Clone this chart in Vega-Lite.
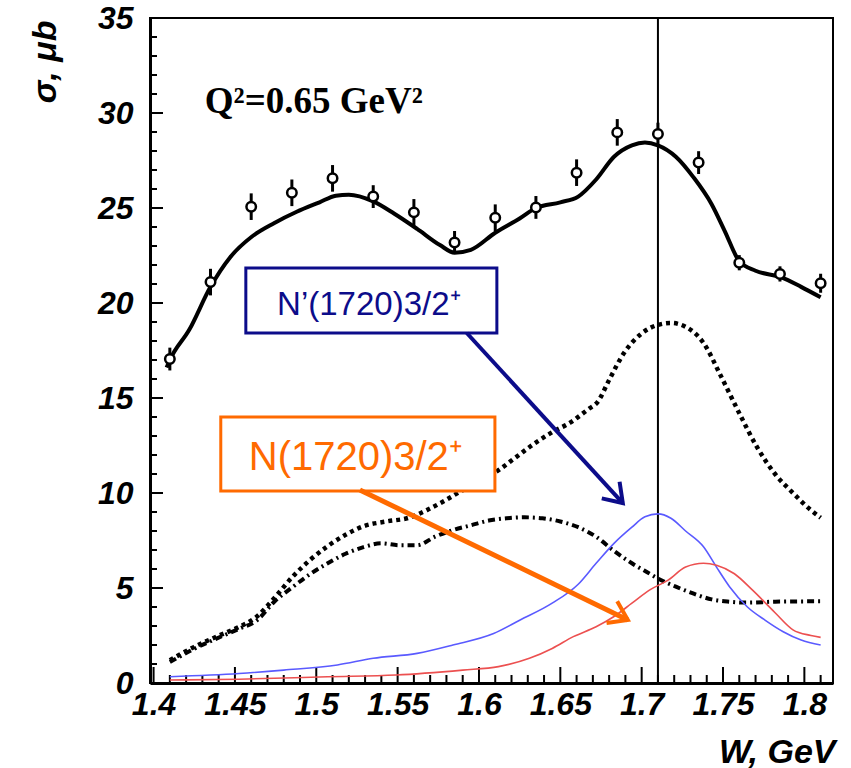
{
  "$schema": "https://vega.github.io/schema/vega-lite/v6.json",
  "width": 683,
  "height": 665,
  "autosize": {"type": "none"},
  "padding": {"left": 150, "top": 18, "right": 18, "bottom": 85},
  "background": "white",
  "config": {
    "view": {"stroke": "black", "strokeWidth": 2},
    "axis": {
      "grid": false,
      "ticks": false,
      "domainColor": "black",
      "domainWidth": 3,
      "labelColor": "black",
      "labelFont": "Liberation Sans",
      "labelFontWeight": "bold",
      "labelFontStyle": "italic",
      "labelFontSize": 32,
      "labelOverlap": false,
      "labelFlush": false,
      "titleColor": "black",
      "titleFont": "Liberation Sans",
      "titleFontWeight": "bold",
      "titleFontStyle": "italic",
      "titleFontSize": 34
    }
  },
  "datasets": {
    "points": [
      {"W": 1.41, "sigma": 17.05, "err": 0.6},
      {"W": 1.435, "sigma": 21.1, "err": 0.7},
      {"W": 1.46, "sigma": 25.07, "err": 0.7},
      {"W": 1.485, "sigma": 25.8, "err": 0.7},
      {"W": 1.51, "sigma": 26.56, "err": 0.7},
      {"W": 1.535, "sigma": 25.6, "err": 0.6},
      {"W": 1.56, "sigma": 24.77, "err": 0.7},
      {"W": 1.585, "sigma": 23.19, "err": 0.6},
      {"W": 1.61, "sigma": 24.49, "err": 0.7},
      {"W": 1.635, "sigma": 25.03, "err": 0.6},
      {"W": 1.66, "sigma": 26.86, "err": 0.7},
      {"W": 1.685, "sigma": 28.98, "err": 0.7},
      {"W": 1.71, "sigma": 28.89, "err": 0.6},
      {"W": 1.735, "sigma": 27.39, "err": 0.6},
      {"W": 1.76, "sigma": 22.12, "err": 0.4},
      {"W": 1.785, "sigma": 21.53, "err": 0.4},
      {"W": 1.81, "sigma": 21.04, "err": 0.5}
    ],
    "curves": [
      {"s": "fit", "W": 1.408, "v": 16.6}, {"s": "fit", "W": 1.41, "v": 17.0}, {"s": "fit", "W": 1.422, "v": 18.6},
      {"s": "fit", "W": 1.435, "v": 20.85}, {"s": "fit", "W": 1.447, "v": 22.4}, {"s": "fit", "W": 1.4605, "v": 23.5},
      {"s": "fit", "W": 1.474, "v": 24.2}, {"s": "fit", "W": 1.488, "v": 24.8}, {"s": "fit", "W": 1.502, "v": 25.3},
      {"s": "fit", "W": 1.512, "v": 25.65}, {"s": "fit", "W": 1.52, "v": 25.7}, {"s": "fit", "W": 1.535, "v": 25.35},
      {"s": "fit", "W": 1.548, "v": 24.7}, {"s": "fit", "W": 1.562, "v": 23.9}, {"s": "fit", "W": 1.576, "v": 23.05},
      {"s": "fit", "W": 1.585, "v": 22.65}, {"s": "fit", "W": 1.595, "v": 22.8}, {"s": "fit", "W": 1.61, "v": 23.7},
      {"s": "fit", "W": 1.625, "v": 24.45}, {"s": "fit", "W": 1.635, "v": 25.0}, {"s": "fit", "W": 1.65, "v": 25.3},
      {"s": "fit", "W": 1.661, "v": 25.6}, {"s": "fit", "W": 1.672, "v": 26.5}, {"s": "fit", "W": 1.683, "v": 27.7},
      {"s": "fit", "W": 1.694, "v": 28.3}, {"s": "fit", "W": 1.702, "v": 28.45}, {"s": "fit", "W": 1.71, "v": 28.3},
      {"s": "fit", "W": 1.721, "v": 27.7}, {"s": "fit", "W": 1.732, "v": 26.6}, {"s": "fit", "W": 1.743, "v": 25.2},
      {"s": "fit", "W": 1.751, "v": 23.8}, {"s": "fit", "W": 1.76, "v": 22.2}, {"s": "fit", "W": 1.77, "v": 21.7},
      {"s": "fit", "W": 1.786, "v": 21.35}, {"s": "fit", "W": 1.798, "v": 20.85}, {"s": "fit", "W": 1.81, "v": 20.3},

      {"s": "dot", "W": 1.41, "v": 1.2}, {"s": "dot", "W": 1.425, "v": 1.9}, {"s": "dot", "W": 1.439, "v": 2.45},
      {"s": "dot", "W": 1.4525, "v": 2.95}, {"s": "dot", "W": 1.4635, "v": 3.5}, {"s": "dot", "W": 1.4745, "v": 4.5},
      {"s": "dot", "W": 1.4855, "v": 5.6}, {"s": "dot", "W": 1.4965, "v": 6.5}, {"s": "dot", "W": 1.507, "v": 7.2},
      {"s": "dot", "W": 1.518, "v": 7.8}, {"s": "dot", "W": 1.529, "v": 8.25}, {"s": "dot", "W": 1.543, "v": 8.5},
      {"s": "dot", "W": 1.557, "v": 8.7}, {"s": "dot", "W": 1.568, "v": 9.1}, {"s": "dot", "W": 1.579, "v": 9.6},
      {"s": "dot", "W": 1.59, "v": 10.15}, {"s": "dot", "W": 1.601, "v": 10.6}, {"s": "dot", "W": 1.612, "v": 11.2},
      {"s": "dot", "W": 1.623, "v": 11.9}, {"s": "dot", "W": 1.634, "v": 12.6}, {"s": "dot", "W": 1.645, "v": 13.2},
      {"s": "dot", "W": 1.656, "v": 13.7}, {"s": "dot", "W": 1.667, "v": 14.4}, {"s": "dot", "W": 1.673, "v": 14.8},
      {"s": "dot", "W": 1.68, "v": 15.95}, {"s": "dot", "W": 1.689, "v": 17.35}, {"s": "dot", "W": 1.7, "v": 18.4},
      {"s": "dot", "W": 1.71, "v": 18.85}, {"s": "dot", "W": 1.718, "v": 18.95}, {"s": "dot", "W": 1.727, "v": 18.75},
      {"s": "dot", "W": 1.738, "v": 17.9}, {"s": "dot", "W": 1.749, "v": 16.1}, {"s": "dot", "W": 1.76, "v": 14.2},
      {"s": "dot", "W": 1.771, "v": 12.4}, {"s": "dot", "W": 1.782, "v": 11.0}, {"s": "dot", "W": 1.793, "v": 10.0},
      {"s": "dot", "W": 1.804, "v": 9.1}, {"s": "dot", "W": 1.81, "v": 8.7},

      {"s": "dashdot", "W": 1.41, "v": 1.1}, {"s": "dashdot", "W": 1.425, "v": 1.8}, {"s": "dashdot", "W": 1.439, "v": 2.35},
      {"s": "dashdot", "W": 1.4525, "v": 2.85}, {"s": "dashdot", "W": 1.4635, "v": 3.3}, {"s": "dashdot", "W": 1.4745, "v": 4.3},
      {"s": "dashdot", "W": 1.4855, "v": 5.05}, {"s": "dashdot", "W": 1.4965, "v": 5.75}, {"s": "dashdot", "W": 1.507, "v": 6.3},
      {"s": "dashdot", "W": 1.518, "v": 6.8}, {"s": "dashdot", "W": 1.529, "v": 7.15}, {"s": "dashdot", "W": 1.54, "v": 7.35},
      {"s": "dashdot", "W": 1.551, "v": 7.25}, {"s": "dashdot", "W": 1.562, "v": 7.25}, {"s": "dashdot", "W": 1.573, "v": 7.7},
      {"s": "dashdot", "W": 1.584, "v": 8.05}, {"s": "dashdot", "W": 1.595, "v": 8.3}, {"s": "dashdot", "W": 1.606, "v": 8.55},
      {"s": "dashdot", "W": 1.617, "v": 8.67}, {"s": "dashdot", "W": 1.628, "v": 8.72}, {"s": "dashdot", "W": 1.639, "v": 8.67},
      {"s": "dashdot", "W": 1.65, "v": 8.5}, {"s": "dashdot", "W": 1.661, "v": 8.2}, {"s": "dashdot", "W": 1.672, "v": 7.7},
      {"s": "dashdot", "W": 1.683, "v": 6.95}, {"s": "dashdot", "W": 1.694, "v": 6.3}, {"s": "dashdot", "W": 1.705, "v": 5.75},
      {"s": "dashdot", "W": 1.71, "v": 5.5}, {"s": "dashdot", "W": 1.721, "v": 5.07}, {"s": "dashdot", "W": 1.732, "v": 4.7},
      {"s": "dashdot", "W": 1.743, "v": 4.4}, {"s": "dashdot", "W": 1.754, "v": 4.28}, {"s": "dashdot", "W": 1.765, "v": 4.23},
      {"s": "dashdot", "W": 1.782, "v": 4.28}, {"s": "dashdot", "W": 1.81, "v": 4.3},

      {"s": "blue", "W": 1.41, "v": 0.33}, {"s": "blue", "W": 1.4525, "v": 0.5}, {"s": "blue", "W": 1.48, "v": 0.68},
      {"s": "blue", "W": 1.513, "v": 0.95}, {"s": "blue", "W": 1.535, "v": 1.3}, {"s": "blue", "W": 1.562, "v": 1.56},
      {"s": "blue", "W": 1.584, "v": 2.0}, {"s": "blue", "W": 1.609, "v": 2.6}, {"s": "blue", "W": 1.625, "v": 3.3},
      {"s": "blue", "W": 1.645, "v": 4.2}, {"s": "blue", "W": 1.661, "v": 5.2}, {"s": "blue", "W": 1.672, "v": 6.3},
      {"s": "blue", "W": 1.683, "v": 7.35}, {"s": "blue", "W": 1.694, "v": 8.2}, {"s": "blue", "W": 1.702, "v": 8.75},
      {"s": "blue", "W": 1.71, "v": 8.9}, {"s": "blue", "W": 1.718, "v": 8.67}, {"s": "blue", "W": 1.727, "v": 8.0},
      {"s": "blue", "W": 1.738, "v": 7.17}, {"s": "blue", "W": 1.746, "v": 6.1}, {"s": "blue", "W": 1.754, "v": 5.07},
      {"s": "blue", "W": 1.765, "v": 4.0}, {"s": "blue", "W": 1.776, "v": 3.3}, {"s": "blue", "W": 1.787, "v": 2.7},
      {"s": "blue", "W": 1.798, "v": 2.26}, {"s": "blue", "W": 1.81, "v": 2.0},

      {"s": "red", "W": 1.41, "v": 0.16}, {"s": "red", "W": 1.4525, "v": 0.2}, {"s": "red", "W": 1.507, "v": 0.33},
      {"s": "red", "W": 1.549, "v": 0.42}, {"s": "red", "W": 1.59, "v": 0.68}, {"s": "red", "W": 1.612, "v": 0.86},
      {"s": "red", "W": 1.631, "v": 1.3}, {"s": "red", "W": 1.645, "v": 1.82}, {"s": "red", "W": 1.658, "v": 2.44},
      {"s": "red", "W": 1.672, "v": 2.96}, {"s": "red", "W": 1.683, "v": 3.5}, {"s": "red", "W": 1.694, "v": 4.2},
      {"s": "red", "W": 1.705, "v": 4.9}, {"s": "red", "W": 1.716, "v": 5.4}, {"s": "red", "W": 1.727, "v": 6.1},
      {"s": "red", "W": 1.738, "v": 6.3}, {"s": "red", "W": 1.746, "v": 6.2}, {"s": "red", "W": 1.757, "v": 5.75},
      {"s": "red", "W": 1.768, "v": 4.9}, {"s": "red", "W": 1.782, "v": 3.7}, {"s": "red", "W": 1.793, "v": 2.8},
      {"s": "red", "W": 1.804, "v": 2.5}, {"s": "red", "W": 1.81, "v": 2.4}
    ],
    "xticks": [
      {"W": 1.4, "kind": "major"}, {"W": 1.41, "kind": "minor"}, {"W": 1.42, "kind": "minor"}, {"W": 1.43, "kind": "minor"}, {"W": 1.44, "kind": "minor"},
      {"W": 1.45, "kind": "major"}, {"W": 1.46, "kind": "minor"}, {"W": 1.47, "kind": "minor"}, {"W": 1.48, "kind": "minor"}, {"W": 1.49, "kind": "minor"},
      {"W": 1.5, "kind": "major"}, {"W": 1.51, "kind": "minor"}, {"W": 1.52, "kind": "minor"}, {"W": 1.53, "kind": "minor"}, {"W": 1.54, "kind": "minor"},
      {"W": 1.55, "kind": "major"}, {"W": 1.56, "kind": "minor"}, {"W": 1.57, "kind": "minor"}, {"W": 1.58, "kind": "minor"}, {"W": 1.59, "kind": "minor"},
      {"W": 1.6, "kind": "major"}, {"W": 1.61, "kind": "minor"}, {"W": 1.62, "kind": "minor"}, {"W": 1.63, "kind": "minor"}, {"W": 1.64, "kind": "minor"},
      {"W": 1.65, "kind": "major"}, {"W": 1.66, "kind": "minor"}, {"W": 1.67, "kind": "minor"}, {"W": 1.68, "kind": "minor"}, {"W": 1.69, "kind": "minor"},
      {"W": 1.7, "kind": "major"}, {"W": 1.71, "kind": "minor"}, {"W": 1.72, "kind": "minor"}, {"W": 1.73, "kind": "minor"}, {"W": 1.74, "kind": "minor"},
      {"W": 1.75, "kind": "major"}, {"W": 1.76, "kind": "minor"}, {"W": 1.77, "kind": "minor"}, {"W": 1.78, "kind": "minor"}, {"W": 1.79, "kind": "minor"},
      {"W": 1.8, "kind": "major"}, {"W": 1.81, "kind": "minor"}
    ],
    "yticks": [
      {"v": 0, "kind": "major"}, {"v": 1, "kind": "minor"}, {"v": 2, "kind": "minor"}, {"v": 3, "kind": "minor"}, {"v": 4, "kind": "minor"},
      {"v": 5, "kind": "major"}, {"v": 6, "kind": "minor"}, {"v": 7, "kind": "minor"}, {"v": 8, "kind": "minor"}, {"v": 9, "kind": "minor"},
      {"v": 10, "kind": "major"}, {"v": 11, "kind": "minor"}, {"v": 12, "kind": "minor"}, {"v": 13, "kind": "minor"}, {"v": 14, "kind": "minor"},
      {"v": 15, "kind": "major"}, {"v": 16, "kind": "minor"}, {"v": 17, "kind": "minor"}, {"v": 18, "kind": "minor"}, {"v": 19, "kind": "minor"},
      {"v": 20, "kind": "major"}, {"v": 21, "kind": "minor"}, {"v": 22, "kind": "minor"}, {"v": 23, "kind": "minor"}, {"v": 24, "kind": "minor"},
      {"v": 25, "kind": "major"}, {"v": 26, "kind": "minor"}, {"v": 27, "kind": "minor"}, {"v": 28, "kind": "minor"}, {"v": 29, "kind": "minor"},
      {"v": 30, "kind": "major"}, {"v": 31, "kind": "minor"}, {"v": 32, "kind": "minor"}, {"v": 33, "kind": "minor"}, {"v": 34, "kind": "minor"},
      {"v": 35, "kind": "major"}
    ],
    "boxes": [
      {"name": "blue", "x1": 1.4567, "x2": 1.611, "y1": 18.42, "y2": 21.84},
      {"name": "orange", "x1": 1.4413, "x2": 1.6098, "y1": 10.1, "y2": 14.0}
    ],
    "arrows": [
      {"name": "blue", "x1": 1.5925, "y1": 18.42, "x2": 1.6884, "y2": 9.47, "angle": 137},
      {"name": "orange", "x1": 1.5268, "y1": 10.16, "x2": 1.6915, "y2": 3.32, "angle": 116}
    ],
    "labels": [
      {"name": "blue", "W": 1.5323, "v": 19.37, "text": "N’(1720)3/2⁺"},
      {"name": "orange", "W": 1.5243, "v": 11.21, "text": "N(1720)3/2⁺"}
    ],
    "vline": [{"W": 1.71}],
    "qtext": [{"W": 1.4315, "v": 30.0, "text": "Q²=0.65 GeV²"}]
  },
  "layer": [
    {
      "data": {"name": "vline"},
      "mark": {"type": "rule", "color": "black", "strokeWidth": 2},
      "encoding": {
        "x": {
          "field": "W", "type": "quantitative",
          "scale": {"domain": [1.3978, 1.8176], "nice": false, "zero": false},
          "axis": {
            "orient": "bottom",
            "values": [1.4, 1.45, 1.5, 1.55, 1.6, 1.65, 1.7, 1.75, 1.8],
            "format": "~g",
            "labelPadding": 6,
            "title": "W, GeV",
            "titleX": 685,
            "titleY": 79,
            "titleAlign": "right",
            "titleBaseline": "alphabetic",
            "titleAnchor": null
          }
        }
      }
    },
    {
      "data": {"name": "curves"},
      "transform": [{"filter": "datum.s === 'dot'"}],
      "mark": {"type": "line", "color": "black", "strokeWidth": 4.5, "strokeDash": [4, 4], "interpolate": "monotone"},
      "encoding": {
        "x": {"field": "W", "type": "quantitative"},
        "y": {
          "field": "v", "type": "quantitative",
          "scale": {"domain": [0, 35], "nice": false},
          "axis": {
            "orient": "left",
            "values": [0, 5, 10, 15, 20, 25, 30, 35],
            "labelPadding": 17,
            "title": "σ, μb",
            "titleAngle": -90,
            "titleX": -105,
            "titleY": 2,
            "titleAlign": "right",
            "titleBaseline": "middle",
            "titleAnchor": null
          }
        }
      }
    },
    {
      "data": {"name": "xticks"},
      "transform": [{"filter": "datum.kind === 'major'"}],
      "mark": {"type": "tick", "orient": "vertical", "color": "black", "thickness": 2, "opacity": 1, "size": 16, "yOffset": -8},
      "encoding": {
        "x": {"field": "W", "type": "quantitative"},
        "y": {"datum": 0, "type": "quantitative"}
      }
    },
    {
      "data": {"name": "xticks"},
      "transform": [{"filter": "datum.kind === 'minor'"}],
      "mark": {"type": "tick", "orient": "vertical", "color": "black", "thickness": 2, "opacity": 1, "size": 8, "yOffset": -4},
      "encoding": {
        "x": {"field": "W", "type": "quantitative"},
        "y": {"datum": 0, "type": "quantitative"}
      }
    },
    {
      "data": {"name": "yticks"},
      "transform": [{"filter": "datum.kind === 'major'"}],
      "mark": {"type": "tick", "orient": "horizontal", "color": "black", "thickness": 2, "opacity": 1, "size": 13, "xOffset": 6.5},
      "encoding": {
        "x": {"datum": 1.3978, "type": "quantitative"},
        "y": {"field": "v", "type": "quantitative"}
      }
    },
    {
      "data": {"name": "yticks"},
      "transform": [{"filter": "datum.kind === 'minor'"}],
      "mark": {"type": "tick", "orient": "horizontal", "color": "black", "thickness": 2, "opacity": 1, "size": 7, "xOffset": 3.5},
      "encoding": {
        "x": {"datum": 1.3978, "type": "quantitative"},
        "y": {"field": "v", "type": "quantitative"}
      }
    },
    {
      "data": {"name": "curves"},
      "transform": [{"filter": "datum.s === 'dashdot'"}],
      "mark": {"type": "line", "color": "black", "strokeWidth": 4, "strokeDash": [7, 4, 2, 4], "interpolate": "monotone"},
      "encoding": {
        "x": {"field": "W", "type": "quantitative"},
        "y": {"field": "v", "type": "quantitative"}
      }
    },
    {
      "data": {"name": "curves"},
      "transform": [{"filter": "datum.s === 'blue'"}],
      "mark": {"type": "line", "color": "#5a5aff", "strokeWidth": 1.6, "interpolate": "monotone"},
      "encoding": {
        "x": {"field": "W", "type": "quantitative"},
        "y": {"field": "v", "type": "quantitative"}
      }
    },
    {
      "data": {"name": "curves"},
      "transform": [{"filter": "datum.s === 'red'"}],
      "mark": {"type": "line", "color": "#ec5050", "strokeWidth": 1.6, "interpolate": "monotone"},
      "encoding": {
        "x": {"field": "W", "type": "quantitative"},
        "y": {"field": "v", "type": "quantitative"}
      }
    },
    {
      "data": {"name": "curves"},
      "transform": [{"filter": "datum.s === 'fit'"}],
      "mark": {"type": "line", "color": "black", "strokeWidth": 4, "interpolate": "monotone"},
      "encoding": {
        "x": {"field": "W", "type": "quantitative"},
        "y": {"field": "v", "type": "quantitative"}
      }
    },
    {
      "data": {"name": "points"},
      "transform": [{"calculate": "datum.sigma - datum.err", "as": "lo"}, {"calculate": "datum.sigma + datum.err", "as": "hi"}],
      "mark": {"type": "rule", "color": "black", "strokeWidth": 3},
      "encoding": {
        "x": {"field": "W", "type": "quantitative"},
        "y": {"field": "lo", "type": "quantitative"},
        "y2": {"field": "hi"}
      }
    },
    {
      "data": {"name": "points"},
      "mark": {"type": "point", "shape": "circle", "size": 90, "filled": true, "fill": "white", "stroke": "black", "strokeWidth": 2.5, "opacity": 1},
      "encoding": {
        "x": {"field": "W", "type": "quantitative"},
        "y": {"field": "sigma", "type": "quantitative"}
      }
    },
    {
      "data": {"name": "boxes"},
      "mark": {"type": "rect", "fill": "white", "strokeWidth": 3},
      "encoding": {
        "x": {"field": "x1", "type": "quantitative"},
        "x2": {"field": "x2"},
        "y": {"field": "y1", "type": "quantitative"},
        "y2": {"field": "y2"},
        "stroke": {"field": "name", "type": "nominal", "scale": {"domain": ["blue", "orange"], "range": ["#0c0c8a", "#ff6a00"]}, "legend": null}
      }
    },
    {
      "data": {"name": "arrows"},
      "mark": {"type": "rule", "strokeCap": "butt"},
      "encoding": {
        "x": {"field": "x1", "type": "quantitative"},
        "y": {"field": "y1", "type": "quantitative"},
        "x2": {"field": "x2"},
        "y2": {"field": "y2"},
        "strokeWidth": {"field": "name", "type": "nominal", "scale": {"domain": ["blue", "orange"], "range": [4, 5]}, "legend": null},
        "stroke": {"field": "name", "type": "nominal", "scale": {"domain": ["blue", "orange"], "range": ["#0c0c8a", "#ff6a00"]}, "legend": null}
      }
    },
    {
      "data": {"name": "arrows"},
      "mark": {"type": "point", "shape": "M-0.65,0.95L0,0L0.65,0.95", "filled": false, "size": 1400, "strokeWidth": 4, "strokeJoin": "miter", "opacity": 1},
      "encoding": {
        "x": {"field": "x2", "type": "quantitative"},
        "y": {"field": "y2", "type": "quantitative"},
        "angle": {"field": "angle", "type": "quantitative", "scale": null},
        "stroke": {"field": "name", "type": "nominal", "scale": {"domain": ["blue", "orange"], "range": ["#0c0c8a", "#ff6a00"]}, "legend": null}
      }
    },
    {
      "data": {"name": "labels"},
      "transform": [{"filter": "datum.name === 'blue'"}],
      "mark": {"type": "text", "font": "Liberation Sans", "fontSize": 33, "align": "center", "baseline": "alphabetic", "color": "#0c0c8a"},
      "encoding": {
        "x": {"field": "W", "type": "quantitative"},
        "y": {"field": "v", "type": "quantitative"},
        "text": {"field": "text"}
      }
    },
    {
      "data": {"name": "labels"},
      "transform": [{"filter": "datum.name === 'orange'"}],
      "mark": {"type": "text", "font": "Liberation Sans", "fontSize": 40, "align": "center", "baseline": "alphabetic", "color": "#ff6a00"},
      "encoding": {
        "x": {"field": "W", "type": "quantitative"},
        "y": {"field": "v", "type": "quantitative"},
        "text": {"field": "text"}
      }
    },
    {
      "data": {"name": "qtext"},
      "mark": {"type": "text", "font": "Liberation Serif", "fontWeight": "bold", "fontSize": 37, "align": "left", "baseline": "alphabetic", "color": "black"},
      "encoding": {
        "x": {"field": "W", "type": "quantitative"},
        "y": {"field": "v", "type": "quantitative"},
        "text": {"field": "text"}
      }
    }
  ]
}
